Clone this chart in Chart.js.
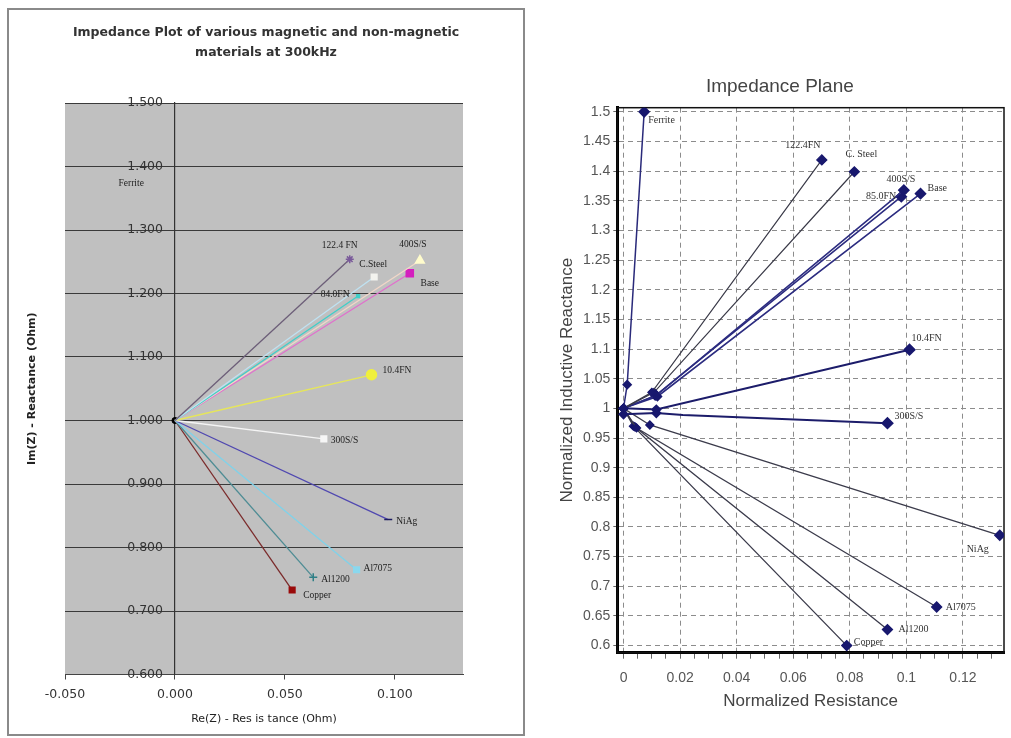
<!DOCTYPE html>
<html>
<head>
<meta charset="utf-8">
<script src="https://cdn.jsdelivr.net/npm/chart.js@4.4.1/dist/chart.umd.min.js"></script>
<style>
  body { margin: 0; width: 1011px; height: 738px; background: #fff; overflow: hidden; position: relative; }
  #leftBox { position: absolute; left: 7px; top: 8px; width: 514px; height: 724px; border: 2px solid #8a8a8a; }
  #leftBox canvas { position: absolute; left: 0; top: 0; }
  #rightChart { position: absolute; left: 553px; top: 55px; }
</style>
</head>
<body>
<div id="leftBox"><canvas id="leftChart" width="514" height="724"></canvas></div>
<canvas id="rightChart" width="458" height="683"></canvas>
<script>
// Re(Z) / Im(Z) in ohm at 300kHz, every line starts at (0, 1)
const leftNames = ['Ferrite', '122.4 FN', 'C.Steel', '84.0FN', '400S/S', 'Base', '10.4FN', '300S/S', 'NiAg', 'Al7075', 'Al1200', 'Copper'];
const leftRe = [-0.0199, 0.0795, 0.0906, 0.0833, 0.1114, 0.1068, 0.0894, 0.0677, 0.0970, 0.0826, 0.0629, 0.0533];
const leftIm = [1.374, 1.254, 1.226, 1.196, 1.252, 1.232, 1.072, 0.971, 0.844, 0.765, 0.753, 0.733];
const leftXTicks = [-0.05, 0, 0.05, 0.1];
const leftYTicks = [0.6, 0.7, 0.8, 0.9, 1.0, 1.1, 1.2, 1.3, 1.4, 1.5];

// normalized resistance / reactance, one path per material
const rightNames = ['Ferrite', '122.4FN', 'C. Steel', '400S/S', '85.0FN', 'Base', '10.4FN', '300S/S', 'NiAg', 'Al7075', 'Al1200', 'Copper'];
const rightRe = [
  [0, 0.0013, 0.0073],
  [0, 0.0100, 0.0701],
  [0, 0.0108, 0.0816],
  [0, 0.0116, 0.0991],
  [0, 0.0112, 0.0982],
  [0, 0.0120, 0.1050],
  [0, 0.0116, 0.1011],
  [0, 0.0116, 0.0210, 0.0933],
  [0, 0.0093, 0.1330],
  [0, 0.0046, 0.1107],
  [0, 0.0040, 0.0933],
  [0, 0.0035, 0.0789]
];
const rightIm = [
  [1, 1.040, 1.500],
  [1, 1.027, 1.419],
  [1, 1.027, 1.399],
  [1, 1.022, 1.368],
  [1, 1.021, 1.357],
  [1, 1.020, 1.362],
  [1, 0.998, 1.099],
  [0.990, 0.992, 0.989, 0.975],
  [1, 0.972, 0.786],
  [1, 0.967, 0.665],
  [1, 0.969, 0.627],
  [1, 0.970, 0.600]
];
const rightXTicks = [0, 0.02, 0.04, 0.06, 0.08, 0.1, 0.12];
const rightYTicks = [0.6, 0.65, 0.7, 0.75, 0.8, 0.85, 0.9, 0.95, 1, 1.05, 1.1, 1.15, 1.2, 1.25, 1.3, 1.35, 1.4, 1.45, 1.5];

// styling
const leftLine = ['rgba(0,0,0,0)', '#6c5e78', '#bfe2f2', '#3fcfc8', '#f2d6c8', '#e070cc', '#e6e65a', '#f4f4f4', '#5048b0', '#7ed2ea', '#4e8c94', '#7a2a2a'];
const leftMark = ['circle', 'star', 'rect', 'rect', 'triangle', 'rect', 'circle', 'rect', 'line', 'rect', 'cross', 'rect'];
const leftMarkColor = ['rgba(0,0,0,0)', '#7a5a9a', '#f2f2ee', '#3fcfc8', '#fffccc', '#d41fbe', '#f0f03c', '#f6f6f6', '#1c1c60', '#8ad8ee', '#2f7f86', '#9a0a0a'];
const leftMarkSize = [0, 4, 4, 2, 5, 5, 5, 4, 4, 4, 4, 4];
const rightLine = ['#2a2a7a', '#3a3a48', '#3a3a48', '#2c2c80', '#2c2c80', '#2c2c80', '#1c1c6a', '#1c1c6a', '#3c3c4c', '#3c3c4c', '#3c3c4c', '#3c3c4c'];
const rightWidth = [1.5, 1.2, 1.2, 1.6, 1.6, 1.6, 2, 2, 1.3, 1.3, 1.3, 1.3];

// label placement [dx, dy, align] relative to the last point of each series
const leftLabelPos = {
  'Ferrite': [0, 0, 'center'], '122.4 FN': [-10, -14, 'center'], 'C.Steel': [-1, -12, 'center'],
  '84.0FN': [-23, -2, 'center'], '400S/S': [-7, -16, 'center'], 'Base': [20, 10, 'center'],
  '10.4FN': [11, -4, 'left'], '300S/S': [7, 2, 'left'], 'NiAg': [8, 2, 'left'],
  'Al7075': [7, -1, 'left'], 'Al1200': [8, 2, 'left'], 'Copper': [11, 5, 'left']
};
const rightLabelPos = {
  'Ferrite': [4, 9, 'left'], '122.4FN': [-19, -15, 'center'], 'C. Steel': [7, -17, 'center'],
  '400S/S': [-3, -11, 'center'], '85.0FN': [-5, 0, 'right'], 'Base': [7, -5, 'left'],
  '10.4FN': [2, -11, 'left'], '300S/S': [7, -7, 'left'], 'NiAg': [-22, 14, 'center'],
  'Al7075': [9, 0, 'left'], 'Al1200': [11, 0, 'left'], 'Copper': [7, -3, 'left']
};

Chart.defaults.font.family = 'Arial, "Liberation Sans", sans-serif';
Chart.defaults.animation = false;
const wide = '"DejaVu Sans", Verdana, sans-serif';

function labelPlugin(offsets, font, color) {
  return {
    id: 'pointLabels',
    afterDatasetsDraw(chart) {
      const ctx = chart.ctx;
      ctx.save();
      ctx.font = font;
      ctx.fillStyle = color;
      ctx.textBaseline = 'middle';
      chart.data.datasets.forEach((ds, i) => {
        const pos = offsets[ds.label];
        if (!pos) return;
        const pts = chart.getDatasetMeta(i).data;
        const p = pts[pts.length - 1];
        ctx.textAlign = pos[2];
        ctx.fillText(ds.label, p.x + pos[0], p.y + pos[1]);
      });
      ctx.restore();
    }
  };
}

const grayPlot = {
  id: 'grayPlot',
  beforeDraw(chart) {
    const a = chart.chartArea;
    chart.ctx.save();
    chart.ctx.fillStyle = '#c0c0c0';
    chart.ctx.fillRect(a.left, a.top, a.right - a.left, a.bottom - a.top);
    chart.ctx.restore();
  }
};

const frame = {
  id: 'frame',
  beforeDatasetsDraw(chart) {
    const a = chart.chartArea;
    const ctx = chart.ctx;
    ctx.save();
    ctx.strokeStyle = '#111';
    ctx.lineWidth = 1.5;
    ctx.strokeRect(a.left, a.top, a.right - a.left, a.bottom - a.top);
    ctx.restore();
  }
};

// empty side axis, only used to reserve room
const spacer = w => ({
  type: 'linear',
  min: 0,
  max: 1,
  afterFit: s => { s.width = w; },
  grid: {display: false},
  border: {display: false},
  ticks: {display: false}
});

const leftDatasets = leftNames.map((name, i) => ({
  label: name,
  data: [{x: 0, y: 1}, {x: leftRe[i], y: leftIm[i]}],
  showLine: name !== 'Ferrite',
  borderColor: leftLine[i],
  borderWidth: 1.3,
  pointStyle: leftMark[i],
  pointRadius: [0, leftMarkSize[i]],
  pointBackgroundColor: leftMarkColor[i],
  pointBorderColor: leftMarkColor[i],
  pointBorderWidth: 1.5
}));
leftDatasets.push({
  label: 'origin',
  data: [{x: 0, y: 1}],
  pointRadius: 3,
  pointBackgroundColor: '#000',
  pointBorderColor: '#000'
});

new Chart(document.getElementById('leftChart'), {
  type: 'scatter',
  data: {datasets: leftDatasets},
  options: {
    responsive: false,
    layout: {padding: 0},
    plugins: {
      legend: {display: false},
      tooltip: {enabled: false},
      title: {
        display: true,
        text: ['Impedance Plot of various magnetic and non-magnetic', 'materials at 300kHz'],
        color: '#333',
        font: {family: wide, size: 12.5, weight: 'bold', lineHeight: '20px'},
        padding: {top: 13, bottom: 40}
      }
    },
    scales: {
      x: {
        type: 'linear',
        min: -0.05,
        max: 0.131,
        afterBuildTicks: s => { s.ticks = leftXTicks.map(v => ({value: v})); },
        afterFit: s => { s.height = 59.5; },
        grid: {drawOnChartArea: false, drawTicks: true, tickLength: 5, color: '#444'},
        border: {display: true, color: '#444', width: 1},
        ticks: {padding: 8, color: '#333', font: {family: wide, size: 12.5}, maxRotation: 0, callback: v => v.toFixed(3)},
        title: {display: true, text: 'Re(Z) - Res is tance (Ohm)', color: '#222', font: {family: wide, size: 11}, padding: {top: 4, bottom: 8.4}}
      },
      y: {
        type: 'linear',
        position: {x: 0},
        min: 0.6,
        max: 1.5,
        afterBuildTicks: s => { s.ticks = leftYTicks.map(v => ({value: v})); },
        grid: {color: '#3a3a3a', lineWidth: 1, tickLength: 6},
        border: {display: true, color: '#333', width: 1.2},
        // labels sit right against an axis placed at x = 0, trailing spaces keep them off the line
        ticks: {color: '#333', font: {family: wide, size: 12.5}, callback: v => v.toFixed(3) + '   '}
      },
      yt: Object.assign(spacer(56), {
        position: 'left',
        title: {display: true, text: 'Im(Z) - Reactance (Ohm)', color: '#222', font: {family: wide, size: 11, weight: 'bold'}, padding: {top: 17, bottom: 0}}
      }),
      yr: Object.assign(spacer(60), {position: 'right'})
    }
  },
  plugins: [grayPlot, labelPlugin(leftLabelPos, '9.5px "Liberation Serif", "Times New Roman", serif', '#222')]
});

const rightDatasets = rightNames.map((name, i) => ({
  label: name,
  data: rightRe[i].map((x, k) => ({x: x, y: rightIm[i][k]})),
  showLine: true,
  borderColor: rightLine[i],
  borderWidth: rightWidth[i],
  pointStyle: 'rectRot',
  pointRadius: rightRe[i].map((x, k) => (k === rightRe[i].length - 1 ? 5 : (rightRe[i].length === 4 && k === 2 ? 0 : 4))),
  pointBackgroundColor: '#18186e',
  pointBorderColor: '#18186e'
}));

const isMajor = v => rightXTicks.some(t => Math.abs(t - v) < 1e-6);
const rightMinor = [];
for (let k = 0; k <= 26; k++) rightMinor.push(+(k * 0.005).toFixed(3));

new Chart(document.getElementById('rightChart'), {
  type: 'scatter',
  data: {datasets: rightDatasets},
  options: {
    responsive: false,
    layout: {padding: {left: 0, right: 4.3, top: 0, bottom: 0}},
    plugins: {
      legend: {display: false},
      tooltip: {enabled: false},
      title: {
        display: true,
        text: 'Impedance Plane',
        color: '#444',
        font: {size: 19, weight: 'normal', lineHeight: 1.2},
        padding: {top: 20.3, bottom: 9.6}
      }
    },
    scales: {
      x: {
        type: 'linear',
        min: -0.0022,
        max: 0.1345,
        afterBuildTicks: s => { s.ticks = rightMinor.map(v => ({value: v})); },
        afterFit: s => { s.height = 85.3; },
        grid: {
          color: c => (c.tick && isMajor(c.tick.value) ? '#8c8c8c' : 'rgba(0,0,0,0)'),
          tickColor: '#666',
          tickLength: 6,
          lineWidth: 1
        },
        border: {display: true, color: '#000', width: 3, dash: [5, 4]},
        ticks: {
          autoSkip: false,
          maxRotation: 0,
          padding: 11,
          color: '#555',
          font: {size: 14},
          callback: v => (isMajor(v) ? String(+v.toFixed(3)) : '')
        },
        title: {display: true, text: 'Normalized Resistance', color: '#444', font: {size: 17}, padding: {top: 4, bottom: 26}}
      },
      y: {
        type: 'linear',
        min: 0.588,
        max: 1.507,
        afterBuildTicks: s => { s.ticks = rightYTicks.map(v => ({value: v})); },
        afterFit: s => { s.width = 64.3; },
        grid: {color: '#8c8c8c', tickColor: '#666', tickLength: 4, lineWidth: 1},
        border: {display: true, color: '#000', width: 3, dash: [5, 4]},
        ticks: {padding: 3, color: '#555', font: {size: 14}, callback: v => String(+v.toFixed(2))},
        title: {display: true, text: 'Normalized Inductive Reactance', color: '#444', font: {size: 17}, padding: {top: 4, bottom: 0}}
      }
    }
  },
  plugins: [frame, labelPlugin(rightLabelPos, '10px "Liberation Serif", "Times New Roman", serif', '#333')]
});
</script>
</body>
</html>
